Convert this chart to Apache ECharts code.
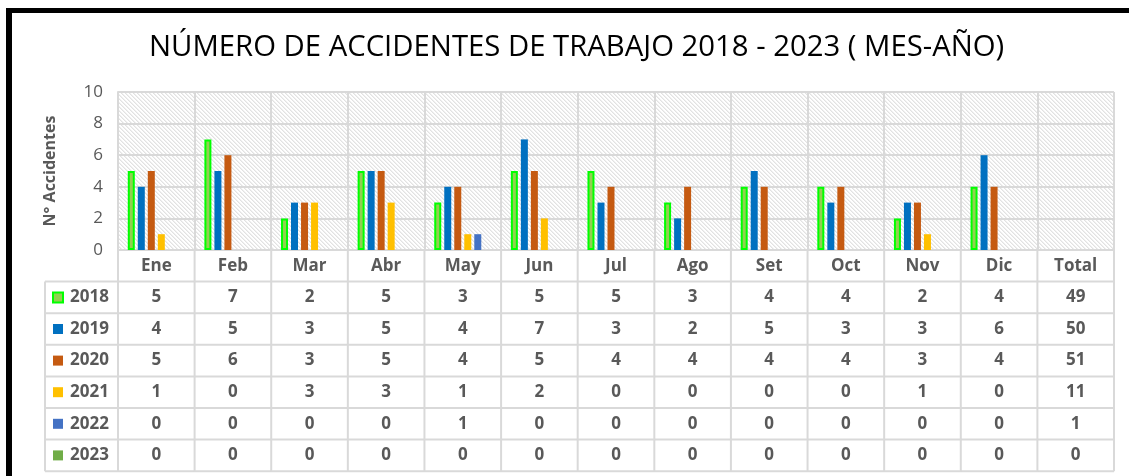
<!DOCTYPE html>
<html>
<head>
<meta charset="utf-8">
<script src="https://cdn.jsdelivr.net/npm/echarts@6/dist/echarts.min.js"></script>
<style>
  html, body { margin: 0; padding: 0; background: #fff; }
  #main { width: 1129px; height: 476px; }
</style>
</head>
<body>
<div id="main"></div>
<script>
// datos
const meses = ['Ene', 'Feb', 'Mar', 'Abr', 'May', 'Jun', 'Jul', 'Ago', 'Set', 'Oct', 'Nov', 'Dic', 'Total']
const anios = ['2018', '2019', '2020', '2021', '2022', '2023']
const d2018 = [5, 7, 2, 5, 3, 5, 5, 3, 4, 4, 2, 4]
const d2019 = [4, 5, 3, 5, 4, 7, 3, 2, 5, 3, 3, 6]
const d2020 = [5, 6, 3, 5, 4, 5, 4, 4, 4, 4, 3, 4]
const d2021 = [1, 0, 3, 3, 1, 2, 0, 0, 0, 0, 1, 0]
const d2022 = [0, 0, 0, 0, 1, 0, 0, 0, 0, 0, 0, 0]
const d2023 = [0, 0, 0, 0, 0, 0, 0, 0, 0, 0, 0, 0]
const totales = [49, 50, 51, 11, 1, 0]
const yTicks = [0, 2, 4, 6, 8, 10]

const datos = [d2018, d2019, d2020, d2021, d2022, d2023]
const colores = ['#92D050', '#0070C0', '#C55A11', '#FFC000', '#4472C4', '#70AD47']
const gris = '#595959'
const linea = '#D9D9D9'
const fuente = 'Open Sans'

// trama diagonal del fondo
const trama = document.createElement('canvas')
trama.width = 4
trama.height = 4
const ctx = trama.getContext('2d')
ctx.fillStyle = '#ffffff'
ctx.fillRect(0, 0, 4, 4)
for (let i = 0; i < 4; i++) {
  ctx.fillStyle = '#e2e2e2'
  ctx.fillRect(i, i, 1, 1)
  ctx.fillStyle = '#f0f0f0'
  ctx.fillRect((i + 1) % 4, i, 1, 1)
}

const series = anios.map(function (a, i) {
  return {
    name: a,
    type: 'bar',
    barWidth: 7,
    barGap: '43%',
    data: datos[i].concat(['-']),
    itemStyle: i === 0
      ? { color: colores[i], borderColor: '#00FF00', borderWidth: 2 }
      : { color: colores[i] }
  }
})

const chart = echarts.init(document.getElementById('main'))
chart.setOption({
  animation: false,
  title: {
    text: 'NÚMERO DE ACCIDENTES DE TRABAJO 2018 - 2023 ( MES-AÑO)',
    left: 144,
    top: 28,
    textStyle: { fontFamily: fuente, fontSize: 29.3, fontWeight: 'normal', color: '#000' }
  },
  grid: {
    left: 118,
    right: 15,
    top: 92,
    bottom: 226,
    show: true,
    borderWidth: 0,
    backgroundColor: { image: trama, repeat: 'repeat' }
  },
  xAxis: {
    type: 'category',
    data: meses,
    axisLine: { lineStyle: { color: linea, width: 2 } },
    axisTick: { show: false },
    axisLabel: { margin: 8, fontFamily: fuente, fontSize: 17, fontWeight: 'bold', color: gris },
    splitLine: { show: true, lineStyle: { color: linea, width: 2 } }
  },
  yAxis: {
    type: 'value',
    min: yTicks[0],
    max: yTicks[yTicks.length - 1],
    interval: 2,
    name: 'N° Accidentes',
    nameLocation: 'middle',
    nameGap: 60,
    nameTextStyle: { fontFamily: fuente, fontSize: 16, fontWeight: 'bold', color: gris },
    axisLine: { show: true, lineStyle: { color: linea, width: 2 } },
    axisTick: { show: false },
    axisLabel: { margin: 15, fontFamily: fuente, fontSize: 17, color: gris },
    splitLine: { lineStyle: { color: linea, width: 2 } }
  },
  series: series
})

// tabla de datos bajo el gráfico
function dibujarTabla () {
  const els = []
  const c0 = chart.convertToPixel({ xAxisIndex: 0 }, 0)
  const c1 = chart.convertToPixel({ xAxisIndex: 0 }, 1)
  const banda = c1 - c0
  const y0 = chart.convertToPixel({ yAxisIndex: 0 }, 0)
  const filaH = 31.6
  const xIni = c0 - banda / 2
  const xFin = chart.convertToPixel({ xAxisIndex: 0 }, meses.length - 1) + banda / 2
  const xLeyenda = 45
  const yFin = y0 + filaH * (anios.length + 1)
  const estiloLinea = { stroke: linea, lineWidth: 2 }
  const letra = 'bold 17px "' + fuente + '"'

  for (let k = 1; k <= anios.length + 1; k++) {
    const y = y0 + filaH * k
    els.push({ type: 'line', shape: { x1: xLeyenda, y1: y, x2: xFin, y2: y }, style: estiloLinea })
  }
  els.push({ type: 'line', shape: { x1: xLeyenda, y1: y0 + filaH, x2: xLeyenda, y2: yFin }, style: estiloLinea })
  for (let j = 0; j <= meses.length; j++) {
    const x = xIni + banda * j
    els.push({ type: 'line', shape: { x1: x, y1: y0, x2: x, y2: yFin }, style: estiloLinea })
  }

  anios.forEach(function (a, i) {
    const yc = y0 + filaH * (i + 1.5)
    els.push({
      type: 'rect',
      shape: { x: 53, y: yc - 5, width: 10, height: 10 },
      style: i === 0
        ? { fill: colores[i], stroke: '#00FF00', lineWidth: 2 }
        : { fill: colores[i] }
    })
    els.push({
      type: 'text',
      style: { text: a, x: 70, y: yc, verticalAlign: 'middle', font: letra, fill: gris }
    })
    const fila = datos[i].concat([totales[i]])
    fila.forEach(function (v, j) {
      els.push({
        type: 'text',
        style: {
          text: String(v),
          x: chart.convertToPixel({ xAxisIndex: 0 }, j),
          y: yc,
          align: 'center',
          verticalAlign: 'middle',
          font: letra,
          fill: gris
        }
      })
    })
  })

  // marco negro
  els.push({ type: 'rect', shape: { x: 6, y: 8, width: 1123, height: 5 }, style: { fill: '#000' } })
  els.push({ type: 'rect', shape: { x: 6, y: 8, width: 6, height: 468 }, style: { fill: '#000' } })

  chart.setOption({ graphic: { elements: els } })
}
dibujarTabla()
</script>
</body>
</html>
